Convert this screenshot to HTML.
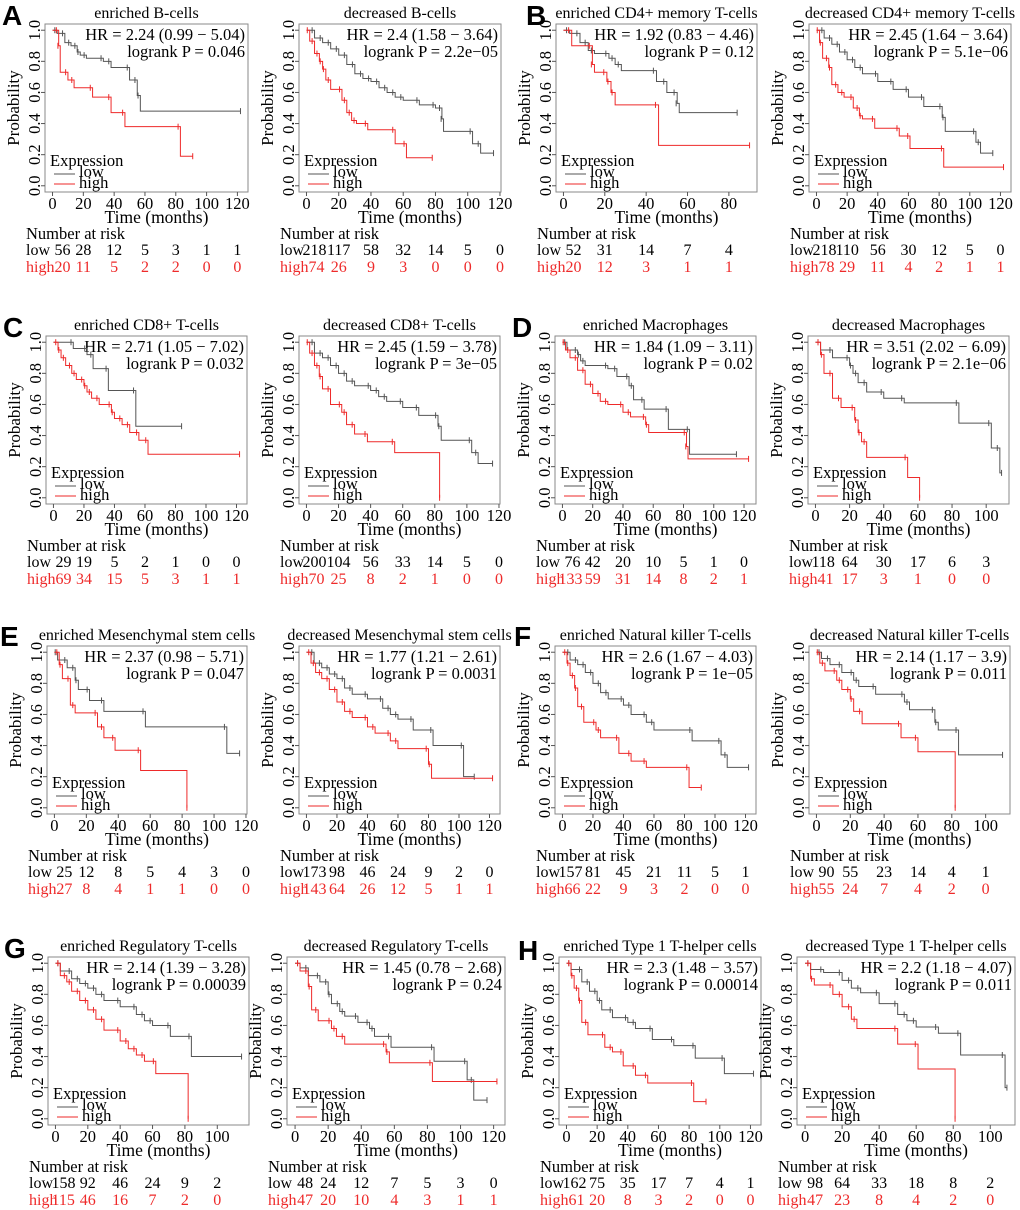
<!DOCTYPE html>
<html><head><meta charset="utf-8"><title>KM survival panels</title>
<style>
html,body{margin:0;padding:0;background:#fff;}
svg{display:block;font-family:"Liberation Serif",serif;}
.lt{font-family:"Liberation Sans",sans-serif;font-weight:bold;font-size:28px;}
</style></head>
<body>
<svg id="fig" width="1020" height="1210" viewBox="0 0 1020 1210" xmlns="http://www.w3.org/2000/svg">
<g>
<text class="lt" x="2" y="25">A</text>
<text class="lt" x="526" y="25">B</text>
<text class="lt" x="3" y="337">C</text>
<text class="lt" x="512" y="337">D</text>
<text class="lt" x="0" y="646">E</text>
<text class="lt" x="514" y="646">F</text>
<text class="lt" x="4" y="958">G</text>
<text class="lt" x="518" y="960">H</text>
</g>
</svg>
<script>
const titles = ["enriched B-cells","decreased B-cells","enriched CD4+ memory T-cells","decreased CD4+ memory T-cells",
"enriched CD8+ T-cells","decreased CD8+ T-cells","enriched Macrophages","decreased Macrophages",
"enriched Mesenchymal stem cells","decreased Mesenchymal stem cells","enriched Natural killer T-cells","decreased Natural killer T-cells",
"enriched Regulatory T-cells","decreased Regulatory T-cells","enriched Type 1 T-helper cells","decreased Type 1 T-helper cells"];
const hrTexts = ["HR = 2.24 (0.99 − 5.04)","HR = 2.4 (1.58 − 3.64)","HR = 1.92 (0.83 − 4.46)","HR = 2.45 (1.64 − 3.64)",
"HR = 2.71 (1.05 − 7.02)","HR = 2.45 (1.59 − 3.78)","HR = 1.84 (1.09 − 3.11)","HR = 3.51 (2.02 − 6.09)",
"HR = 2.37 (0.98 − 5.71)","HR = 1.77 (1.21 − 2.61)","HR = 2.6 (1.67 − 4.03)","HR = 2.14 (1.17 − 3.9)",
"HR = 2.14 (1.39 − 3.28)","HR = 1.45 (0.78 − 2.68)","HR = 2.3 (1.48 − 3.57)","HR = 2.2 (1.18 − 4.07)"];
const pTexts = ["logrank P = 0.046","logrank P = 2.2e−05","logrank P = 0.12","logrank P = 5.1e−06",
"logrank P = 0.032","logrank P = 3e−05","logrank P = 0.02","logrank P = 2.1e−06",
"logrank P = 0.047","logrank P = 0.0031","logrank P = 1e−05","logrank P = 0.011",
"logrank P = 0.00039","logrank P = 0.24","logrank P = 0.00014","logrank P = 0.011"];
const tMax = [122,116,90,122, 122,116,123,109, 116,122,122,110, 115,122,122,109];
const lowRisk = [[56,28,12,5,3,1,1],[218,117,58,32,14,5,0],[52,31,14,7,4],[218,110,56,30,12,5,0],
[29,19,5,2,1,0,0],[200,104,56,33,14,5,0],[76,42,20,10,5,1,0],[118,64,30,17,6,3],
[25,12,8,5,4,3,0],[173,98,46,24,9,2,0],[157,81,45,21,11,5,1],[90,55,23,14,4,1],
[158,92,46,24,9,2],[48,24,12,7,5,3,0],[162,75,35,17,7,4,1],[98,64,33,18,8,2]];
const highRisk = [[20,11,5,2,2,0,0],[74,26,9,3,0,0,0],[20,12,3,1,1],[78,29,11,4,2,1,1],
[69,34,15,5,3,1,1],[70,25,8,2,1,0,0],[133,59,31,14,8,2,1],[41,17,3,1,0,0],
[27,8,4,1,1,0,0],[143,64,26,12,5,1,1],[66,22,9,3,2,0,0],[55,24,7,4,2,0],
[115,46,16,7,2,0],[47,20,10,4,3,1,1],[61,20,8,3,2,0,0],[47,23,8,4,2,0]];
const lowTimes = [
[3,8,12,16,18,22,33,38,50,55,57,122],
[5,10,15,20,25,30,35,40,45,50,55,60,70,80,84,85,103,108,116],
[3,8,12,15,22,25,28,45,50,55,56,84],
[5,10,15,20,25,30,40,50,60,70,82,84,104,107,115],
[13,22,26,36,54,84],
[5,10,15,20,25,30,40,45,50,60,70,82,84,103,107,116],
[3,10,12,15,30,36,44,47,54,70,84,115],
[3,10,20,22,25,30,40,52,84,103,108,109],
[2,8,13,15,22,31,57,108,116],
[5,10,15,20,25,30,40,50,55,60,70,83,103,110],
[5,10,15,20,25,30,40,45,55,60,85,104,108,122],
[3,8,15,22,25,35,52,55,70,72,84,110],
[3,10,15,20,25,30,40,50,55,60,71,84,115],
[3,8,15,20,22,27,30,38,45,48,58,84,104,108,116],
[3,10,15,20,23,30,40,45,56,70,84,103,122],
[3,10,20,25,30,40,50,55,60,72,84,108,109]];
const lowSurv = [
[0.98,0.92,0.9,0.86,0.84,0.82,0.8,0.76,0.68,0.58,0.48,0.48],
[0.95,0.92,0.88,0.84,0.78,0.72,0.69,0.67,0.63,0.6,0.57,0.55,0.52,0.5,0.43,0.35,0.27,0.21,0.21],
[0.98,0.92,0.87,0.85,0.82,0.78,0.74,0.67,0.6,0.53,0.47,0.47],
[0.95,0.91,0.86,0.81,0.76,0.72,0.67,0.62,0.57,0.51,0.44,0.35,0.28,0.21,0.21],
[0.96,0.92,0.83,0.69,0.46,0.46],
[0.93,0.9,0.85,0.8,0.75,0.72,0.69,0.65,0.62,0.58,0.53,0.46,0.37,0.29,0.22,0.22],
[0.95,0.92,0.88,0.85,0.83,0.78,0.72,0.63,0.57,0.44,0.28,0.28],
[0.95,0.9,0.85,0.8,0.74,0.68,0.64,0.61,0.48,0.32,0.16,0.16],
[0.95,0.9,0.82,0.76,0.69,0.62,0.52,0.35,0.35],
[0.93,0.9,0.86,0.83,0.77,0.73,0.7,0.64,0.6,0.57,0.5,0.4,0.2,0.2],
[0.95,0.92,0.87,0.8,0.74,0.7,0.66,0.6,0.55,0.5,0.43,0.34,0.26,0.26],
[0.96,0.92,0.87,0.82,0.78,0.73,0.68,0.63,0.55,0.5,0.34,0.34],
[0.95,0.9,0.87,0.84,0.8,0.76,0.72,0.67,0.63,0.6,0.53,0.4,0.4],
[0.97,0.92,0.88,0.8,0.74,0.69,0.66,0.62,0.58,0.53,0.46,0.37,0.25,0.12,0.12],
[0.96,0.88,0.82,0.76,0.7,0.65,0.62,0.58,0.51,0.47,0.39,0.29,0.29],
[0.96,0.94,0.89,0.84,0.81,0.74,0.67,0.63,0.59,0.55,0.41,0.2,0.2]];
const highTimes = [
[4,5,10,14,26,38,47,83,91],
[2,5,8,10,12,15,22,25,28,31,38,55,62,78],
[4,14,15,21,23,25,46,90],
[2,4,8,10,14,18,24,28,30,38,54,61,83,122],
[3,5,8,12,15,20,22,25,30,38,40,45,50,56,62,122],
[2,5,8,10,15,22,25,30,38,55,83],
[2,5,10,15,20,25,30,40,45,55,57,82,83,123],
[3,5,10,15,23,25,27,30,54,61],
[3,5,10,13,27,31,38,54,83],
[3,6,10,15,20,25,30,40,45,55,60,80,82,122],
[3,5,8,10,14,22,25,37,45,55,83,91],
[2,5,12,15,20,22,27,50,60,82],
[3,7,10,15,20,25,30,40,45,50,55,62,82],
[3,8,10,14,22,25,30,55,57,83,122],
[3,5,8,10,14,25,30,37,45,53,83,91],
[3,5,15,20,25,28,50,61,81]];
const highSurv = [
[0.9,0.73,0.68,0.63,0.57,0.47,0.38,0.19,0.19],
[0.93,0.85,0.8,0.75,0.68,0.62,0.55,0.47,0.42,0.4,0.36,0.27,0.18,0.18],
[0.9,0.78,0.73,0.67,0.6,0.52,0.26,0.26],
[0.92,0.82,0.76,0.65,0.6,0.57,0.5,0.45,0.43,0.37,0.32,0.24,0.12,0.12],
[0.95,0.9,0.85,0.8,0.76,0.72,0.68,0.64,0.6,0.55,0.51,0.47,0.42,0.37,0.28,0.28],
[0.93,0.85,0.78,0.7,0.6,0.55,0.47,0.41,0.36,0.29,0.0],
[0.95,0.9,0.82,0.73,0.67,0.62,0.6,0.55,0.52,0.47,0.42,0.33,0.25,0.25],
[0.92,0.8,0.64,0.58,0.5,0.42,0.36,0.26,0.13,0.0],
[0.92,0.83,0.66,0.61,0.52,0.45,0.37,0.24,0.0],
[0.93,0.87,0.83,0.76,0.68,0.62,0.58,0.52,0.48,0.43,0.38,0.28,0.19,0.19],
[0.93,0.85,0.77,0.65,0.55,0.5,0.45,0.35,0.3,0.26,0.13,0.13],
[0.93,0.88,0.82,0.76,0.7,0.62,0.54,0.45,0.36,0.0],
[0.92,0.88,0.82,0.76,0.7,0.64,0.57,0.5,0.45,0.41,0.37,0.29,0.0],
[0.95,0.85,0.7,0.63,0.58,0.53,0.48,0.43,0.36,0.24,0.24],
[0.92,0.84,0.76,0.62,0.54,0.46,0.43,0.34,0.28,0.23,0.11,0.11],
[0.9,0.86,0.8,0.72,0.64,0.58,0.48,0.32,0.0]];

// layout (not data)
const boxL = [45,299,556,809, 46,299,555,808, 47,299,555,809, 48,287,559,797];
const boxR = [248,501,757,1011, 247,500,756,1009, 247,500,756,1010, 249,505,761,1015];
const rowTop = [24,336,646,957];
const boxH = 168;
const NS = "http://www.w3.org/2000/svg";
const svg = document.getElementById('fig');
const LOWC = "#555", HIGHC = "#ee2a2a";

function mk(tag, attrs, parent, txt){
  const e = document.createElementNS(NS, tag);
  for (const k in attrs) e.setAttribute(k, attrs[k]);
  if (txt !== undefined) e.textContent = txt;
  parent.appendChild(e);
  return e;
}

for (let i = 0; i < 16; i++) {
  const L = boxL[i], R = boxR[i], T = rowTop[Math.floor(i/4)], B = T + boxH;
  const tm = tMax[i];
  const xs = t => L + (t + 0.04*tm) / (1.08*tm) * (R - L);
  const ys = s => B - (s + 0.04) / 1.08 * boxH;
  const g = mk('g', {}, svg);
  
  

  const box = mk('rect', {x:L, y:T, width:R-L, height:boxH, fill:'none', stroke:'#8a8a8a', 'stroke-width':1}, g);
  
  

  const ti = mk('text', {x:(L+R)/2, y:T-6, 'text-anchor':'middle', 'font-size':16}, g, titles[i]);
  
  

  const hr = mk('text', {x:R-3, y:T+16, 'text-anchor':'end', 'font-size':16.5}, g, hrTexts[i]);
  
  
  const pv = mk('text', {x:R-3, y:T+33, 'text-anchor':'end', 'font-size':16.5}, g, pTexts[i]);
  
  

  // y axis
  for (let k = 0; k <= 5; k++) {
    const v = k*0.2, y = ys(v);
    mk('line', {x1:L-4, x2:L, y1:y, y2:y, stroke:'#555'}, g);
    const yl = mk('text', {x:L-5, y:y, 'text-anchor':'middle', 'font-size':16.5, transform:'rotate(-90 '+(L-5)+' '+y+')'}, g, v.toFixed(1));
    
    
  }
  const yt = mk('text', {x:L-26, y:(T+B)/2, 'text-anchor':'middle', 'font-size':17, transform:'rotate(-90 '+(L-26)+' '+((T+B)/2)+')'}, g, 'Probability');
  
  

  // x axis ticks + risk table
  const nT = lowRisk[i].length;
  for (let k = 0; k < nT; k++) {
    const x = xs(k*20);
    mk('line', {x1:x, x2:x, y1:B, y2:B+4, stroke:'#555'}, g);
    const xl = mk('text', {x:x, y:T+185, 'text-anchor':'middle', 'font-size':16.5}, g, String(k*20));
    
    
    const first = (k === 0);
    const anc = first ? 'start' : 'middle';
    const lx = first ? (String(lowRisk[i][k]).length > 2 ? x - 4 : x + 2) : x;
    const hx = first ? (String(highRisk[i][k]).length > 2 ? x - 4 : x + 2) : x;
    const lr = mk('text', {x:lx, y:T+231, 'text-anchor':anc, 'font-size':16}, g, String(lowRisk[i][k]));
    
    
    const hrk = mk('text', {x:hx, y:T+248, 'text-anchor':anc, 'font-size':16, fill:HIGHC}, g, String(highRisk[i][k]));
    
    
  }
  const xt = mk('text', {x:(L+R)/2+10, y:T+199, 'text-anchor':'middle', 'font-size':17.5}, g, 'Time (months)');
  
  
  const nr = mk('text', {x:L-19, y:T+215, 'font-size':16.5}, g, 'Number at risk');
  
  
  const lw = mk('text', {x:L-19, y:T+231, 'font-size':16}, g, 'low');
  
  
  const hg = mk('text', {x:L-19, y:T+248, 'font-size':16, fill:HIGHC}, g, 'high');
  
  

  // legend
  const lg = mk('g', {}, g);
  
  
  mk('text', {x:L+5, y:T+142, 'font-size':16.5}, lg, 'Expression');
  mk('line', {x1:L+9, x2:L+30, y1:T+150, y2:T+150, stroke:LOWC}, lg);
  mk('text', {x:L+34, y:T+153, 'font-size':16.5}, lg, 'low');
  mk('line', {x1:L+9, x2:L+30, y1:T+160, y2:T+160, stroke:HIGHC}, lg);
  mk('text', {x:L+34, y:T+164, 'font-size':16.5}, lg, 'high');

  // curves
  const curve = (tt, ss, col, nm) => {
    let d = 'M' + xs(0) + ' ' + ys(1);
    for (let k = 0; k < tt.length; k++) d += ' H' + xs(tt[k]) + ' V' + ys(ss[k]);
    const p = mk('path', {d:d, fill:'none', stroke:col, 'stroke-width':1}, g);
    
    
    for (let k = 0; k < tt.length; k++) {
      const xe = xs(tt[k] - (k < tt.length-1 ? 1.5 : 0));
      const yy = (k === tt.length-1) ? ys(ss[k]) : ys(k === 0 ? 1 : ss[k-1]);
      mk('line', {x1:xe, x2:xe, y1:yy-3, y2:yy+3, stroke:col}, g);
    }
  };
  curve(lowTimes[i], lowSurv[i], LOWC, 'low-expression-curve');
  curve(highTimes[i], highSurv[i], HIGHC, 'high-expression-curve');
}
</script>
</body></html>
